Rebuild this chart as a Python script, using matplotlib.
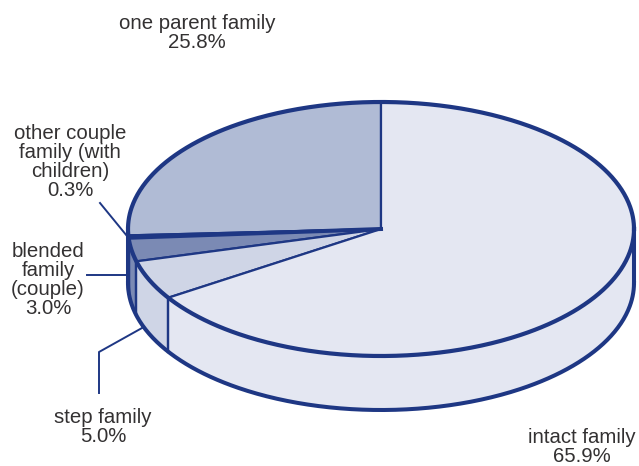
import numpy as np
import matplotlib
matplotlib.use("Agg")
import matplotlib.pyplot as plt
from matplotlib.patches import Polygon

# shares going counter clockwise from the top of the pie
labels = ["one parent family", "other couple\nfamily (with\nchildren)", "blended\nfamily\n(couple)", "step family", "intact family"]
shares = [25.8, 0.3, 3.0, 5.0, 65.9]
top_colors = ["#b0bbd5", "#1e3784", "#7b8ab4", "#cfd5e6", "#e4e7f2"]
side_colors = ["#b0bbd5", "#1e3784", "#7b8ab4", "#cfd5e6", "#e4e7f2"]
label_pos = [(197, 52), (70, 200), (48, 318), (103, 446), (582, 466)]

navy = "#1e3784"
cx, cy = 381, 229
rx, ry = 253, 127
depth = 54


def rim(a1, a2, drop=0):
    t = np.radians(np.linspace(a1, a2, max(int(abs(a2 - a1) * 2), 2)))
    return np.column_stack([cx + rx * np.cos(t), cy + ry * np.sin(t) + drop])


plt.rcParams["font.family"] = ["Liberation Sans", "DejaVu Sans"]
fig = plt.figure(figsize=(6.39, 4.66), dpi=100)
ax = fig.add_axes([0, 0, 1, 1])
ax.set_xlim(0, 639)
ax.set_ylim(466, 0)
ax.axis("off")

# y axis is flipped so angles grow clockwise on screen; walk back from 270
edges = 270 - np.concatenate([[0], np.cumsum(shares)]) * 3.6

# walls on the front half only
for i in range(len(shares)):
    a1, a2 = sorted([edges[i], edges[i + 1]])
    a1, a2 = max(a1, 0), min(a2, 180)
    if a2 <= a1:
        # the angles may also sit a full turn lower
        a1, a2 = sorted([edges[i] + 360, edges[i + 1] + 360])
        a1, a2 = max(a1, 0), min(a2, 180)
    if a2 <= a1:
        continue
    wall = np.vstack([rim(a1, a2), rim(a1, a2, depth)[::-1]])
    ax.add_patch(Polygon(wall, closed=True, fc=side_colors[i], ec="none", zorder=1))
    for a in (a1, a2):
        if 0 < a < 180:
            p = rim(a, a + 0.01)[0]
            ax.plot([p[0], p[0]], [p[1], p[1] + depth], color=navy, lw=1.6, zorder=2)

# outer edge of the walls
ax.plot(*rim(0, 180, depth).T, color=navy, lw=2.9, zorder=3)
ax.plot([cx + rx, cx + rx], [cy, cy + depth], color=navy, lw=2.9, zorder=3)
ax.plot([cx - rx, cx - rx], [cy, cy + depth], color=navy, lw=2.9, zorder=3)

# top face
for i in range(len(shares)):
    pts = np.vstack([[cx, cy], rim(edges[i], edges[i + 1])])
    ax.add_patch(Polygon(pts, closed=True, fc=top_colors[i], ec=navy,
                         lw=1.6, joinstyle="miter", zorder=4))
ax.plot(*rim(0, 360).T, color=navy, lw=3.0, zorder=5)

# thin sliver reads as a heavy line in the original
sliver = rim(edges[1], edges[2])[-1]
ax.plot([cx, sliver[0]], [cy, sliver[1]], color=navy, lw=2.9, zorder=5)

# leader lines
ax.plot([100, 127], [203, 236], color=navy, lw=1.4, zorder=3)
ax.plot([87, 127], [275, 275], color=navy, lw=1.4, zorder=3)
ax.plot([142, 99, 99], [328, 352, 393], color=navy, lw=1.4, zorder=3)

for name, share, (x, y) in zip(labels, shares, label_pos):
    ax.text(x, y, f"{name}\n{share:.1f}%", ha="center", va="bottom", fontsize=14.7,
            color="#333132", linespacing=1.0)

fig.savefig("out.png", dpi=100)
